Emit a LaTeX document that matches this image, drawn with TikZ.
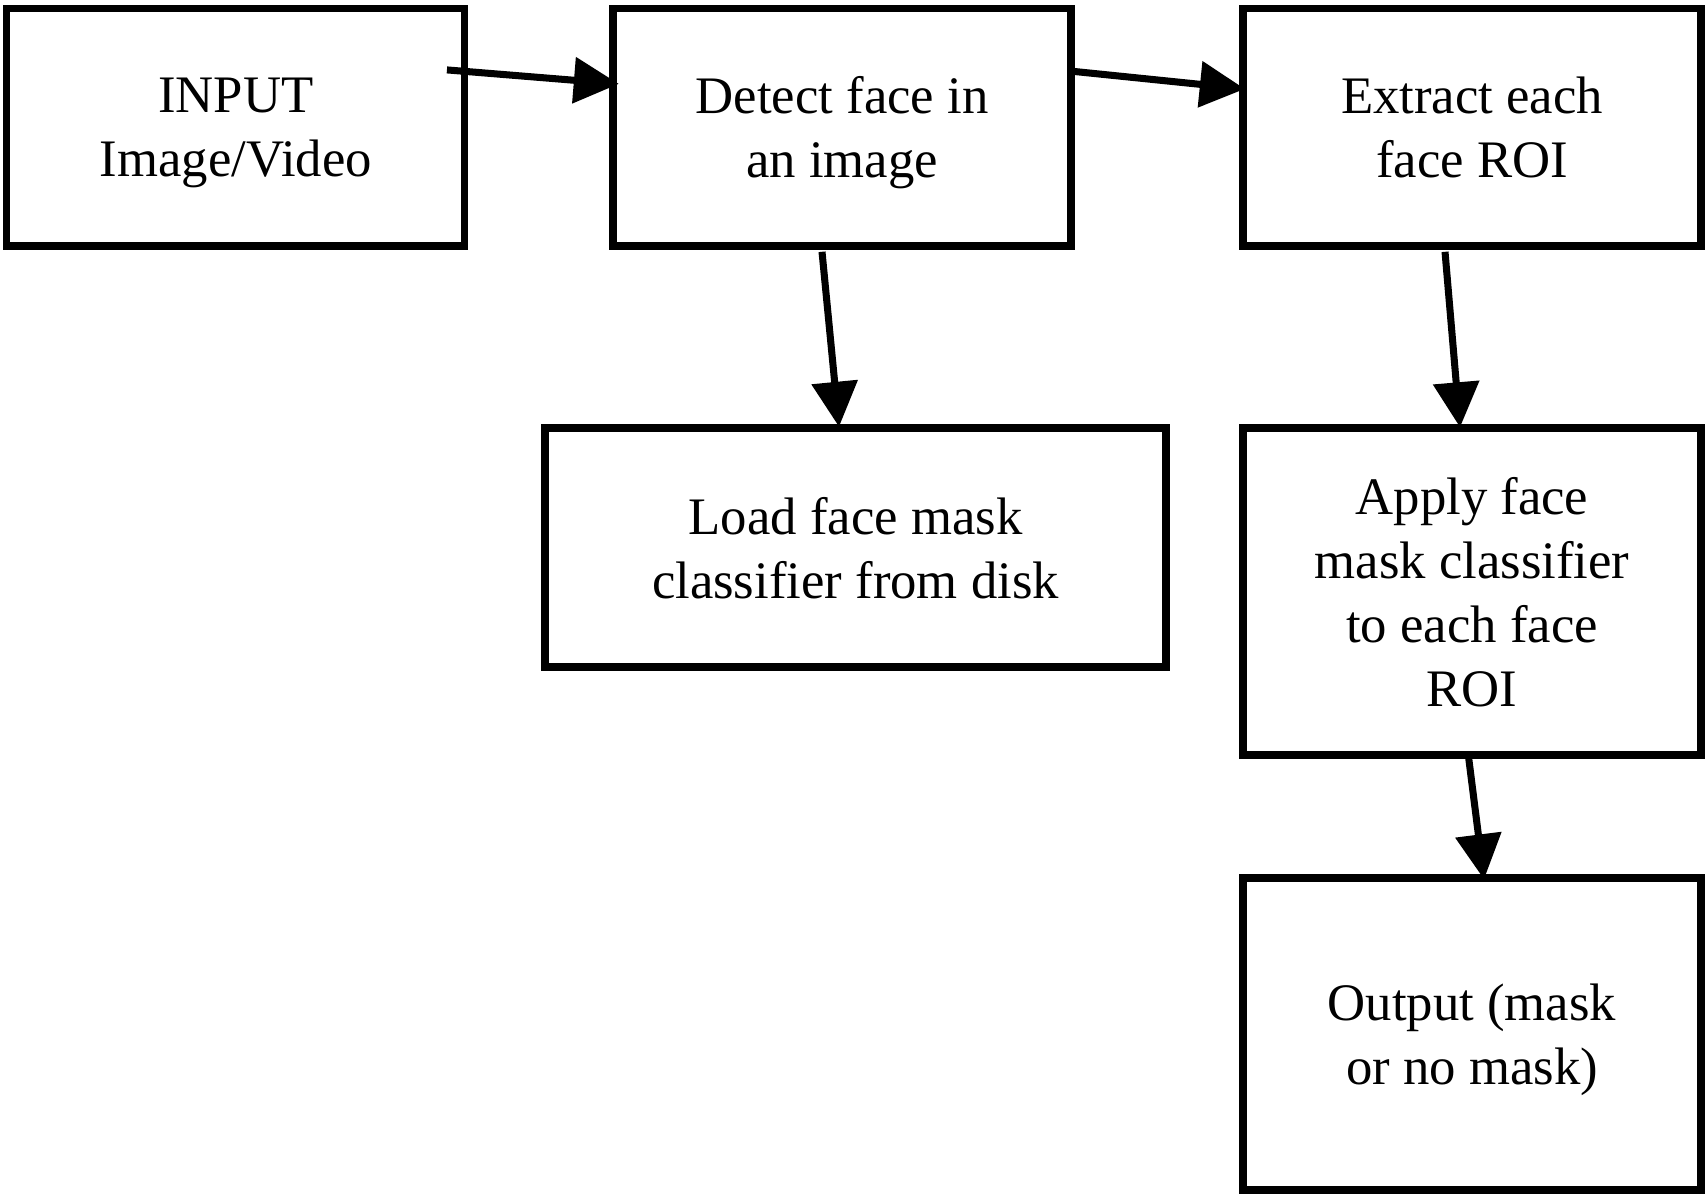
\documentclass[tikz,border=0pt]{standalone}
\usepackage{fontspec}
\setmainfont{Liberation Serif}
\usetikzlibrary{arrows.meta,positioning}
% last line of a box without its depth, so every text sits alike
\newcommand{\flatline}[1]{\smash{#1}}

\begin{document}
\begin{tikzpicture}[
    font=\fontsize{30}{36.4}\selectfont,
    stage/.style={draw, line width=4.2pt, align=center, minimum width=9.16cm, minimum height=4.75cm, inner sep=0pt},
    arr/.style={-{Triangle[length=0.9cm, width=0.9cm]}, line width=4pt}
]
\useasboundingbox (0,0) rectangle (34.16,-23.96);
\node[stage] (inp) at (4.715,-2.547) {INPUT\\\flatline{Image/Video}};
\node[stage] (detect) at (16.84,-2.547) {Detect face in\\\flatline{an image}};
\node[stage] (extract) at (29.44,-2.547) {Extract each\\\flatline{face ROI}};
\node[stage, minimum width=12.42cm, minimum height=4.78cm] (load) at (17.11,-10.95) {Load face mask\\\flatline{classifier from disk}};
\node[stage, minimum height=6.54cm] (apply) at (29.44,-11.83) {Apply face\\mask classifier\\to each face\\\flatline{ROI}};
\node[stage, minimum height=6.24cm] (out) at (29.44,-20.68) {Output (mask\\\flatline{or no mask)}};
\draw[arr] ([xshift=-0.43cm, yshift=-1.3cm]inp.north east) -- ([xshift=0.19cm, yshift=-1.58cm]detect.north west);
\draw[arr] ([xshift=-0.02cm, yshift=-1.33cm]detect.north east) -- ([xshift=0.11cm, yshift=-1.68cm]extract.north west);
\draw[arr] ([xshift=-0.4cm, yshift=-0.04cm]detect.south) -- ([xshift=-0.33cm, yshift=-0.05cm]load.north);
\draw[arr] ([xshift=-0.54cm, yshift=-0.04cm]extract.south) -- ([xshift=-0.24cm, yshift=-0.06cm]apply.north);
\draw[arr] ([xshift=-0.08cm, yshift=0.12cm]apply.south) -- ([xshift=0.24cm, yshift=-0.1cm]out.north);
\end{tikzpicture}
\end{document}
